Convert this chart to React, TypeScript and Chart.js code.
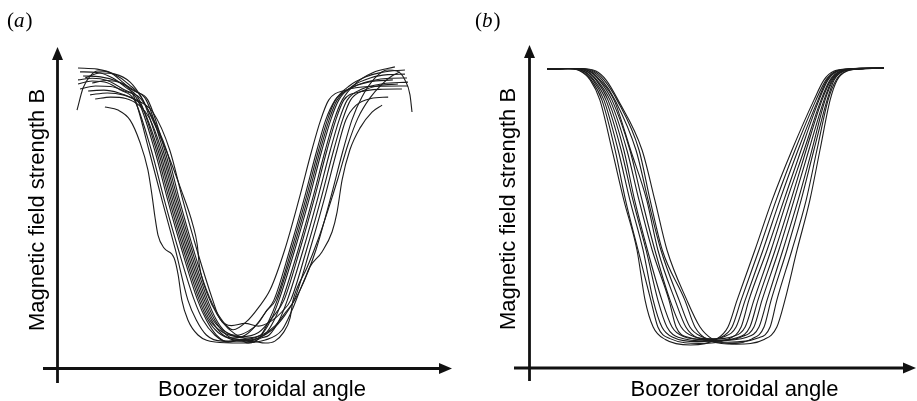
import React, { useEffect, useRef } from "react";
import { Chart, registerables } from "chart.js";

Chart.register(...registerables);

// Normalised Boozer toroidal angle (0..100) vs normalised |B| (0..100).
// Panel (a)
const a01 = [[0,84.8],[1.8,92.8],[3.9,97.1],[6.2,98.9],[9.2,98.6],[12.8,95.7],[17,89.5],[21.4,70.4],[25.3,52.3],[29.3,34.3],[33,16.2],[35.5,9],[38.5,3.6],[43.2,1.4],[48.5,1.4],[53.9,2.5],[58,5.4],[61.9,10.8],[66.4,19.9],[71.1,34.3],[75.3,52.3],[79.2,70.4],[81.8,81.2],[84.8,89.5],[88.7,96.4],[92.3,99.3],[95.2,98.9],[97.6,95.7],[99.1,90.3],[99.7,84.1]];
const a02 = [[0.3,100],[6,99.6],[11,97.8],[15.5,94],[19.6,88.4],[24.6,70.4],[28.5,52.3],[32.7,34.3],[37.4,16.2],[40,9],[43.5,3.6],[49,1.5],[55.7,3.6],[58.7,9],[61.1,16.2],[65.8,34.3],[70,52.3],[73.9,70.4],[76.5,81.2],[78.9,88.4],[83,94.5],[88,98.3],[94.6,100.4]];
const a03 = [[0.9,98.6],[6,98.4],[10.5,96.5],[14.5,93],[18.6,88.4],[23.6,70.4],[27.5,52.3],[31.7,34.3],[36.4,16.2],[39,9],[42,4.5],[46,2.5],[50,3.5],[53.2,7],[56.2,12],[58.6,16.2],[63.3,34.3],[67.5,52.3],[71.4,70.4],[74,81.2],[76.8,88.4],[81,93.5],[86,96.8],[91,98.5],[97.6,99.3]];
const a04 = [[1.8,97.1],[7,96.8],[12,95.2],[16.5,92],[20.6,88.4],[25.6,70.4],[29.5,52.3],[33.7,34.3],[38.4,16.2],[41,9],[44.5,3.6],[48.5,2],[54.7,3.6],[57.7,9],[60.1,16.2],[64.8,34.3],[69,52.3],[72.9,70.4],[75.5,81.2],[77.9,88.4],[82,93.5],[87.5,96.5],[92.5,97.6],[97.6,97.8]];
const a05 = [[0.3,95.7],[4.5,96.3],[9,95.5],[13.5,92.5],[18.1,88.4],[23.1,70.4],[27,52.3],[31.2,34.3],[35.9,16.2],[38.5,9],[41.5,3.6],[45,1.2],[48,2],[51,0.7],[54.2,2.5],[57.2,9],[59.6,16.2],[64.3,34.3],[68.5,52.3],[72.4,70.4],[75,81.2],[77.4,88.4],[82,93],[88,95.5],[93,96.3],[98.2,96.4]];
const a06 = [[0.3,94.2],[4.5,95.3],[9,94.7],[13,92],[17.1,88.4],[22.1,70.4],[26,52.3],[30.2,34.3],[34.9,16.2],[37.5,9],[41,3.6],[45,1],[48.5,1.8],[52,1.2],[55,2.6],[57.2,3.6],[60.2,9],[62.6,16.2],[67.3,34.3],[71.5,52.3],[75.4,70.4],[78,81.2],[80.4,88.4],[85,92.5],[91,94.3],[98.5,94.9]];
const a07 = [[0.9,92.4],[5.5,93.5],[10,93.3],[14.5,91.5],[18.5,89.5],[21.6,84],[26.6,70.4],[30.5,52.3],[34.7,34.3],[38.5,20],[42,11],[46.5,5.5],[50.5,8.5],[54,13.5],[57.5,20],[61.8,34.3],[66,52.3],[69.9,70.4],[72.5,81.2],[74.9,88.4],[80,92],[87,93.3],[98.5,93.5]];
const a08 = [[3.3,91.7],[8,92],[12.5,91],[16.5,89],[19.1,86.5],[24.1,70.4],[28,52.3],[32.2,34.3],[36.9,16.2],[39.5,9],[43.5,4.5],[49,3],[54,4.5],[58.2,10],[61.6,16.2],[66.3,34.3],[70.5,52.3],[74.4,70.4],[77,81.2],[79.4,88.4],[84,91.3],[90,92.3],[96.7,92.4]];
const a09 = [[3.9,90.3],[9,91],[14,90.2],[18.5,88],[22.6,84],[27.6,70.4],[31.5,52.3],[35.7,34.3],[40.4,16.2],[42.5,9.5],[46,7],[50,7.8],[54,6.8],[58,8.8],[61,12],[63.6,16.2],[68.3,34.3],[72.5,52.3],[76.4,70.4],[79,81.2],[81.4,88.4],[85.5,92],[90,93.7],[95.5,94.2]];
const a10 = [[5.4,88.8],[10,89.5],[14.5,89],[18.5,86.5],[21.5,82],[25.1,70.4],[29,52.3],[33.2,34.3],[37.9,16.2],[40.5,9],[44.5,4.5],[50,2.5],[55,3.6],[59,7],[62.2,12],[64.6,16.2],[69.3,34.3],[73.5,52.3],[77.4,70.4],[80,81.2],[83,86.5],[87.5,89],[92.6,89.5]];
const a11 = [[8.3,85.9],[12.2,84.8],[15.8,81.2],[18.7,73.3],[21.1,63.2],[22.3,54.2],[23.2,46.2],[24.1,39.7],[25.9,35],[28.9,31.4],[30.1,25.3],[31.2,16.2],[33,9],[36,3.6],[41.1,1.1],[48.5,0.7],[56,1.8],[61,5.4],[64,12.6],[66.4,19.9],[67.9,24.2],[69.3,28.2],[72.9,33.6],[75.9,40.8],[77.4,48],[78.9,59.6],[81.2,70.4],[84.2,78.3],[87.8,84.1],[90.8,86.6]];
const a12 = [[2.4,96.4],[6.8,98.2],[11.3,97.8],[15.8,94.9],[19.3,89.2],[22.5,81.2],[26.5,70.4],[31,56],[34.5,43.3],[35.8,36.1],[36.4,28.9],[37.8,21.7],[40.2,14.4],[43.2,8.3],[47,4],[51.5,1.8],[56,0.7],[58.9,1.4],[61.3,4.3],[63.4,9.7],[64.3,16.2],[65.5,20.6],[68.4,27.8],[71.7,37.9],[74.7,48.7],[77.7,60.3],[80.6,72.2],[83.6,81.9],[87.2,89.2],[90.8,94.2],[93.7,97.1],[96.1,98.6]];
const a13 = [[4.5,94.6],[9,95.5],[13.5,94.5],[17.5,91.5],[21.1,88.4],[26.1,70.4],[30,52.3],[34.2,34.3],[38.9,16.2],[41.5,9],[44,5],[47.5,3.5],[51,5],[54,8],[56.5,12.5],[59.1,16.2],[63.8,34.3],[68,52.3],[71.9,70.4],[74.5,81.2],[76.9,88.4],[81,92.5],[87,95],[94,95.7]];

// Panel (b)
const b01 = [[0,99.6],[5.3,99.8],[9.8,98.9],[12.8,95.7],[15.7,88.4],[19.3,70.4],[22.8,52.3],[26.7,34.3],[29.1,16.2],[31.5,6.5],[35.1,2],[42.6,0],[50.1,2],[53.7,6.5],[56.4,16.2],[61.7,34.3],[66.8,52.3],[72.7,70.4],[79.2,88.4],[82.2,95.7],[85.2,98.9],[89.7,99.7],[100,100]];
const b02 = [[0,99.6],[5.6,99.8],[10.1,98.9],[13.1,95.7],[16.3,88.4],[20.2,70.4],[23.3,52.3],[27,34.3],[30.8,16.2],[32.9,6.5],[36.5,2.3],[45.3,0.6],[54,2.3],[57.6,6.5],[59.9,16.2],[65.3,34.3],[70.3,52.3],[75.4,70.4],[80.7,88.4],[83.4,95.7],[86.4,98.9],[90.9,99.7],[100,100]];
const b03 = [[0,99.6],[6.1,99.8],[10.6,98.9],[13.6,95.7],[16.9,88.4],[21.1,70.4],[24.6,52.3],[28.5,34.3],[31.5,16.2],[34.1,6.5],[37.7,2.6],[44.5,1.2],[51.3,2.6],[54.9,6.5],[57.6,16.2],[62.9,34.3],[68,52.3],[73.6,70.4],[79.8,88.4],[82.8,95.7],[85.8,98.9],[90.3,99.7],[100,100]];
const b04 = [[0,99.6],[6.4,99.8],[10.9,98.9],[13.9,95.7],[17.5,88.4],[22,70.4],[25.5,52.3],[29.4,34.3],[32.9,16.2],[35.6,6.5],[39.2,2.7],[47.9,1.4],[56.6,2.7],[60.2,6.5],[62.6,16.2],[67.7,34.3],[72.4,52.3],[76.9,70.4],[81.6,88.4],[84.3,95.7],[87.3,98.9],[91.8,99.7],[100,100]];
const b05 = [[0,99.6],[7,99.8],[11.5,98.9],[14.5,95.7],[18.1,88.4],[22.8,70.4],[26,52.3],[29.8,34.3],[34.1,16.2],[37.1,6.5],[40.7,3],[46.6,2],[52.5,3],[56.1,6.5],[58.8,16.2],[64.1,34.3],[69.1,52.3],[74.5,70.4],[80.4,88.4],[83.1,95.7],[86.1,98.9],[90.6,99.7],[100,100]];
const b06 = [[0,99.6],[7.3,99.8],[11.8,98.9],[14.8,95.7],[18.7,88.4],[23.7,70.4],[27.3,52.3],[31.2,34.3],[36.2,16.2],[38.3,6.5],[41.9,2.8],[50.6,1.6],[59.3,2.8],[62.9,6.5],[65.3,16.2],[70,34.3],[74.5,52.3],[78.6,70.4],[82.5,88.4],[84.9,95.7],[87.9,98.9],[92.4,99.7],[100,100]];
const b07 = [[0,99.6],[7.9,99.8],[12.4,98.9],[15.4,95.7],[19.3,88.4],[24.6,70.4],[28.2,52.3],[32,34.3],[36.5,16.2],[39.8,6.5],[43.4,3.1],[49.3,2.2],[55.2,3.1],[58.8,6.5],[61.4,16.2],[66.5,34.3],[71.2,52.3],[76.3,70.4],[81.3,88.4],[84,95.7],[87,98.9],[91.5,99.7],[100,100]];
const b08 = [[0,99.6],[8.2,99.8],[12.7,98.9],[15.7,95.7],[19.9,88.4],[24.8,70.4],[29.6,52.3],[32.9,34.3],[38,16.2],[41.2,6.5],[44.8,2.5],[53.7,1],[62.6,2.5],[66.2,6.5],[68.2,16.2],[72.7,34.3],[76.9,52.3],[80.1,70.4],[83.4,88.4],[85.8,95.7],[88.8,98.9],[93.3,99.7],[100,100]];
const b09 = [[0,99.6],[8.8,99.8],[13.3,98.9],[16.3,95.7],[20.2,88.4],[26.4,70.4],[30,52.3],[33.8,34.3],[39.2,16.2],[42.4,6.5],[46,3],[51.9,1.8],[57.8,3],[61.4,6.5],[63.8,16.2],[68.8,34.3],[73.3,52.3],[77.7,70.4],[82.2,88.4],[84.6,95.7],[87.6,98.9],[92.1,99.7],[100,100]];
const b10 = [[0,99.6],[9.4,99.8],[13.9,98.9],[16.9,95.7],[20.8,88.4],[27.3,70.4],[30.6,52.3],[34.2,34.3],[40.9,16.2],[43.9,6.5],[47.5,2.1],[56.1,0.3],[64.6,2.1],[68.2,6.5],[70.6,16.2],[74.2,34.3],[78,52.3],[81,70.4],[84,88.4],[86.1,95.7],[89.1,98.9],[93.6,99.7],[100,100]];
const b11 = [[0,99.6],[10,99.8],[14.5,98.9],[17.5,95.7],[21.1,88.4],[28.2,70.4],[32,52.3],[35.6,34.3],[41.5,16.2],[45.4,6.5],[49,2.2],[54.9,0.5],[60.8,2.2],[64.4,6.5],[66.5,16.2],[71.2,34.3],[75.4,52.3],[79.2,70.4],[83.1,88.4],[85.2,95.7],[88.2,98.9],[92.7,99.7],[100,100]];

const curvesA = [a01, a02, a03, a04, a05, a06, a07, a08, a09, a10, a11, a12, a13];
const curvesB = [b01, b02, b03, b04, b05, b06, b07, b08, b09, b10, b11];

const yTitle = "Magnetic field strength B";
const xTitle = "Boozer toroidal angle";

const axesPlugin = {
  id: "axesArrows",
  afterDraw(chart: any, _args: any, o: any) {
    const ctx = chart.ctx as CanvasRenderingContext2D;
    ctx.save();
    ctx.fillStyle = "#111";
    ctx.strokeStyle = "#111";
    ctx.lineWidth = 2.8;
    // y axis
    ctx.beginPath();
    ctx.moveTo(o.yAxisX, o.yAxisBottom);
    ctx.lineTo(o.yAxisX, o.yAxisTop + 10);
    ctx.stroke();
    ctx.beginPath();
    ctx.moveTo(o.yAxisX, o.yAxisTop);
    ctx.lineTo(o.yAxisX - 5.5, o.yAxisTop + 13);
    ctx.lineTo(o.yAxisX + 5.5, o.yAxisTop + 13);
    ctx.closePath();
    ctx.fill();
    // x axis
    ctx.beginPath();
    ctx.moveTo(o.xAxisLeft, o.xAxisY);
    ctx.lineTo(o.xAxisRight - 10, o.xAxisY);
    ctx.stroke();
    ctx.beginPath();
    ctx.moveTo(o.xAxisRight, o.xAxisY);
    ctx.lineTo(o.xAxisRight - 13, o.xAxisY - 5.5);
    ctx.lineTo(o.xAxisRight - 13, o.xAxisY + 5.5);
    ctx.closePath();
    ctx.fill();

    // panel label "(a)" / "(b)"
    ctx.fillStyle = "#000";
    ctx.textBaseline = "alphabetic";
    ctx.textAlign = "left";
    let x = o.labelX;
    ctx.font = '21px "Liberation Serif"';
    ctx.fillText("(", x, o.labelY);
    x += ctx.measureText("(").width;
    ctx.font = 'italic 21px "Liberation Serif"';
    ctx.fillText(o.label, x, o.labelY);
    x += ctx.measureText(o.label).width + 1;
    ctx.font = '21px "Liberation Serif"';
    ctx.fillText(")", x, o.labelY);

    // axis titles
    ctx.font = '22px "Liberation Sans"';
    ctx.textAlign = "center";
    ctx.fillText(xTitle, o.xTitleX, o.xTitleY);
    ctx.save();
    ctx.translate(o.yTitleX, o.yTitleY);
    ctx.rotate(-Math.PI / 2);
    ctx.fillText(yTitle, 0, 0);
    ctx.restore();
    ctx.restore();
  },
};

function makeConfig(curves: number[][][], xMin: number, xMax: number, layout: any): any {
  return {
    type: "line",
    data: {
      datasets: curves.map((c, i) => ({
        label: "curve " + (i + 1),
        data: c.map(([x, y]) => ({ x, y })),
        borderColor: "#1c1c1c",
        borderWidth: 1.1,
        pointRadius: 0,
        fill: false,
        cubicInterpolationMode: "monotone",
      })),
    },
    options: {
      animation: false,
      responsive: false,
      devicePixelRatio: 1,
      layout: { padding: 0 },
      events: [],
      plugins: {
        legend: { display: false },
        tooltip: { enabled: false },
        title: { display: false },
        axesArrows: layout,
      },
      scales: {
        x: { type: "linear", min: xMin, max: xMax, display: false },
        y: { type: "linear", min: -20.22, max: 124.55, display: false },
      },
    },
    plugins: [axesPlugin],
  };
}

export default function App() {
  const refA = useRef<HTMLCanvasElement>(null);
  const refB = useRef<HTMLCanvasElement>(null);
  useEffect(() => {
    const ca = new Chart(
      refA.current as HTMLCanvasElement,
      makeConfig(curvesA, -22.92, 113.39, {
        yAxisX: 57.5, yAxisTop: 47, yAxisBottom: 383,
        xAxisY: 368.5, xAxisLeft: 43, xAxisRight: 452,
        label: "a", labelX: 7, labelY: 27,
        yTitleX: 44, yTitleY: 210, xTitleX: 262, xTitleY: 396,
      })
    );
    const cb = new Chart(
      refB.current as HTMLCanvasElement,
      makeConfig(curvesB, -26.41, 109.79, {
        yAxisX: 71.5, yAxisTop: 45, yAxisBottom: 381,
        xAxisY: 368, xAxisLeft: 56, xAxisRight: 458,
        label: "b", labelX: 17, labelY: 27,
        yTitleX: 57, yTitleY: 209, xTitleX: 276.5, xTitleY: 396,
      })
    );
    return () => {
      ca.destroy();
      cb.destroy();
    };
  }, []);
  return (
    <div style={{ position: "absolute", left: 0, top: 0, width: 917, height: 401, background: "#fff" }}>
      <canvas ref={refA} width={458} height={401} style={{ position: "absolute", left: 0, top: 0, width: 458, height: 401 }} />
      <canvas ref={refB} width={459} height={401} style={{ position: "absolute", left: 458, top: 0, width: 459, height: 401 }} />
    </div>
  );
}
